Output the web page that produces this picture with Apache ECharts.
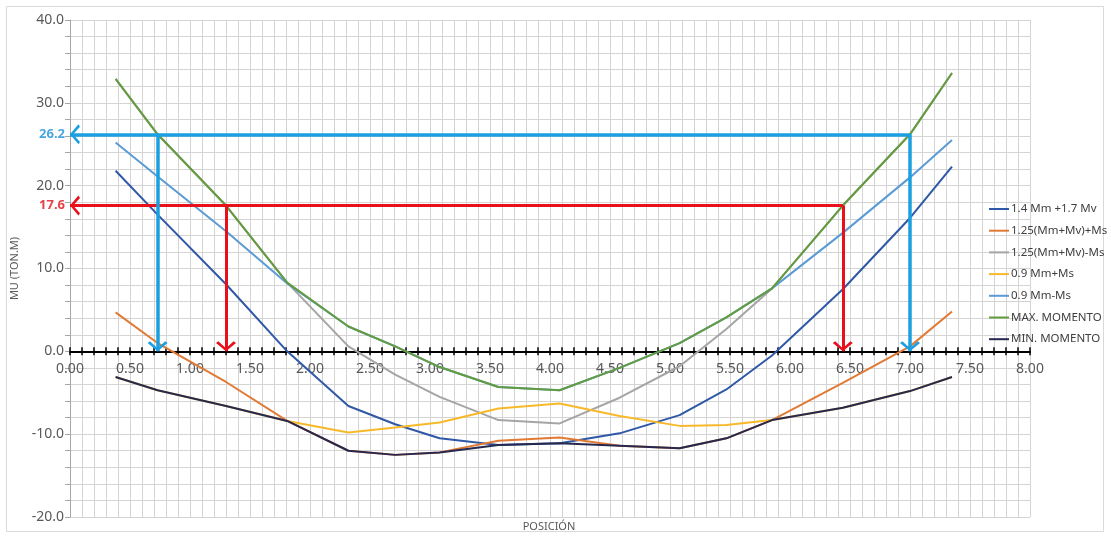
<!DOCTYPE html>
<html>
<head>
<meta charset="utf-8">
<script src="https://cdn.jsdelivr.net/npm/echarts@6/dist/echarts.min.js"></script>
<style>
  html, body { margin: 0; padding: 0; background: #ffffff; }
  #chart { width: 1111px; height: 538px; }
</style>
</head>
<body>
<div id="chart"></div>
<script>
// Section positions along the span (m)
const positions = [0.38, 0.73, 1.30, 1.81, 2.32, 2.71, 3.08, 3.57, 4.08, 4.58, 5.08, 5.47, 5.85, 6.44, 7.00, 7.35];

// Factored moments (ton.m) at each position
const mu14Mm17Mv   = [21.8, 16.5, 8.1, 0.0, -6.6, -8.8, -10.5, -11.3, -11.1, -9.9, -7.7, -4.6, -0.5, 7.5, 16.1, 22.3];
const mu125PlusMs  = [4.7, 1.0, -3.7, -8.4, -12.0, -12.5, -12.2, -10.8, -10.4, -11.4, -11.7, -10.5, -8.3, -3.8, 0.6, 4.8];
const mu125MinusMs = [32.9, 26.2, 17.6, 8.3, 0.6, -2.8, -5.5, -8.3, -8.7, -5.6, -1.8, 2.7, 7.6, 17.6, 26.2, 33.6];
const mu09PlusMs   = [-3.1, -4.7, -6.6, -8.4, -9.8, -9.2, -8.6, -6.9, -6.3, -7.8, -9.0, -8.9, -8.3, -6.8, -4.8, -3.1];
const mu09MinusMs  = [25.2, 21.1, 14.5, 8.2, 3.0, 0.6, -1.9, -4.3, -4.7, -2.0, 1.0, 4.1, 7.6, 14.3, 21.0, 25.5];
const muMax        = [32.9, 26.2, 17.6, 8.3, 3.0, 0.6, -1.9, -4.3, -4.7, -2.0, 1.0, 4.1, 7.6, 17.6, 26.2, 33.6];
const muMin        = [-3.1, -4.7, -6.6, -8.4, -12.0, -12.5, -12.2, -11.3, -11.1, -11.4, -11.7, -10.5, -8.3, -6.8, -4.8, -3.1];

const seriesNames = ['1.4 Mm +1.7 Mv', '1.25(Mm+Mv)+Ms', '1.25(Mm+Mv)-Ms', '0.9 Mm+Ms', '0.9 Mm-Ms', 'MAX. MOMENTO', 'MIN. MOMENTO'];
const seriesValues = [mu14Mm17Mv, mu125PlusMs, mu125MinusMs, mu09PlusMs, mu09MinusMs, muMax, muMin];
const seriesColors = ['#2f58a6', '#e07a35', '#a5a5a5', '#f7b92a', '#5b9bd5', '#629c3e', '#262850'];

// Design moment levels and the positions where the envelope reaches them
const blueLevel = 26.2;
const bluePositions = [0.73, 7.00];
const redLevel = 17.6;
const redPositions = [1.30, 6.44];

// Axis ranges
const xMin = 0, xMax = 8, xStep = 0.1, xLabelStep = 0.5;
const yMin = -20, yMax = 40, yStep = 2, yLabelStep = 10;

const FONT = '"Noto Sans", "Open Sans", sans-serif';
// open arrow head, tip at the centre of its box so it ends exactly on the target point
const chevron = 'path://M50,50 L100,92 L88,100 L50,66 L12,100 L0,92 Z M50,0 L50.1,0 L50,0.1 Z';

const GRID = { left: 70, right: 81, top: 20, bottom: 21 };
const CHART_H = 538;

function isMultiple(v, step) {
  const r = v / step;
  return Math.abs(r - Math.round(r)) < 1e-6;
}

function levelLines(level, xs) {
  const out = [{ coords: [[xs[xs.length - 1], level], [0, level]] }];
  xs.forEach(x => out.push({ coords: [[x, level], [x, 0]] }));
  return out;
}

const lineSeries = seriesNames.map((name, i) => ({
  name: name,
  type: 'line',
  data: positions.map((x, k) => [x, seriesValues[i][k]]),
  symbol: 'none',
  lineStyle: { color: seriesColors[i], width: 2 },
  itemStyle: { color: seriesColors[i] },
  z: 3
}));

const arrowSeries = [
  { level: redLevel, xs: redPositions, color: '#e8101a', width: 3 },
  { level: blueLevel, xs: bluePositions, color: '#1aa0e0', width: 3.5 }
].map(a => ({
  type: 'lines',
  coordinateSystem: 'cartesian2d',
  polyline: false,
  data: levelLines(a.level, a.xs),
  symbol: ['none', chevron],
  symbolSize: [17, 20],
  lineStyle: { color: a.color, width: a.width, opacity: 1, curveness: 0 },
  itemStyle: { color: a.color },
  silent: true,
  z: 6
}));

const levelLabels = [
  { level: blueLevel, color: '#1a8fd6' },
  { level: redLevel, color: '#e01018' }
].map(l => ({
  type: 'scatter',
  data: [[0, l.level]],
  symbolSize: 0,
  silent: true,
  z: 7,
  label: {
    show: true,
    position: 'left',
    distance: 5,
    color: l.color,
    fontFamily: FONT,
    fontWeight: 'bold',
    fontSize: 13,
    formatter: p => p.value[1].toFixed(1)
  }
}));

// The position axis is drawn across the zero line: shift it up from the grid
// bottom by the share of the plot height that lies below zero.
const plotH = CHART_H - GRID.top - GRID.bottom;
const zeroShift = -plotH * (0 - yMin) / (yMax - yMin);

const xBase = {
  type: 'value',
  min: xMin,
  max: xMax,
  interval: xStep,
  position: 'bottom',
  offset: zeroShift,
  axisLine: { show: true, onZero: false, lineStyle: { color: '#000000', width: 2 } }
};

const chart = echarts.init(document.getElementById('chart'), null, { renderer: 'canvas' });

chart.setOption({
  animation: false,
  backgroundColor: '#ffffff',
  textStyle: { fontFamily: FONT },
  grid: Object.assign({ containLabel: false, outerBoundsMode: 'none' }, GRID),
  legend: {
    orient: 'vertical',
    left: 984,
    top: 197,
    icon: 'rect',
    itemWidth: 20,
    itemHeight: 2,
    itemGap: 7.7,
    data: seriesNames,
    textStyle: { fontFamily: FONT, fontSize: 11.5, lineHeight: 14, color: '#404040', padding: [0, 0, 0, -3] }
  },
  xAxis: [
    Object.assign({}, xBase, {
      axisTick: { show: true, inside: false, length: 4, lineStyle: { color: '#000000', width: 1.5 } },
      axisLabel: {
        show: true,
        margin: 11,
        color: '#595959',
        fontSize: 14,
        fontFamily: FONT,
        showMinLabel: true,
        showMaxLabel: true,
        formatter: v => isMultiple(v, xLabelStep) ? v.toFixed(2) : ''
      },
      splitLine: { show: false }
    }),
    Object.assign({}, xBase, {
      axisTick: { show: true, inside: true, length: 4, lineStyle: { color: '#000000', width: 1.5 } },
      axisLabel: { show: false },
      splitLine: { show: false }
    }),
    {
      // vertical grid lines every 0.1 m across the whole plot
      type: 'value',
      min: xMin,
      max: xMax,
      interval: xStep,
      position: 'bottom',
      axisLine: { show: false, onZero: false },
      axisTick: { show: false },
      axisLabel: { show: false },
      splitLine: { show: true, lineStyle: { color: '#d4d4d4', width: 1 } },
      z: 0
    }
  ],
  yAxis: {
    type: 'value',
    min: yMin,
    max: yMax,
    interval: yStep,
    name: 'MU (TON.M)',
    nameLocation: 'middle',
    nameGap: 47,
    nameTextStyle: { color: '#595959', fontSize: 11, fontFamily: FONT },
    axisLine: { show: true, onZero: false, lineStyle: { color: '#a6a6a6', width: 1 } },
    axisTick: { show: true, inside: false, length: 5, lineStyle: { color: '#a6a6a6' } },
    axisLabel: {
      margin: 6,
      color: '#595959',
      fontSize: 14,
      fontFamily: FONT,
      formatter: v => isMultiple(v, yLabelStep) ? v.toFixed(1) : ''
    },
    splitLine: { show: true, lineStyle: { color: '#d4d4d4', width: 1 } }
  },
  graphic: [
    {
      type: 'rect',
      shape: { x: 6.5, y: 6.5, width: 1097, height: 525 },
      style: { fill: 'none', stroke: '#d9d9d9', lineWidth: 1 },
      silent: true,
      z: -10
    },
    {
      type: 'text',
      x: 549,
      y: 527,
      style: {
        text: 'POSICIÓN',
        fill: '#595959',
        font: '11px ' + FONT,
        textAlign: 'center',
        textVerticalAlign: 'middle'
      },
      silent: true
    }
  ],
  series: lineSeries.concat(arrowSeries, levelLabels)
});
</script>
</body>
</html>
